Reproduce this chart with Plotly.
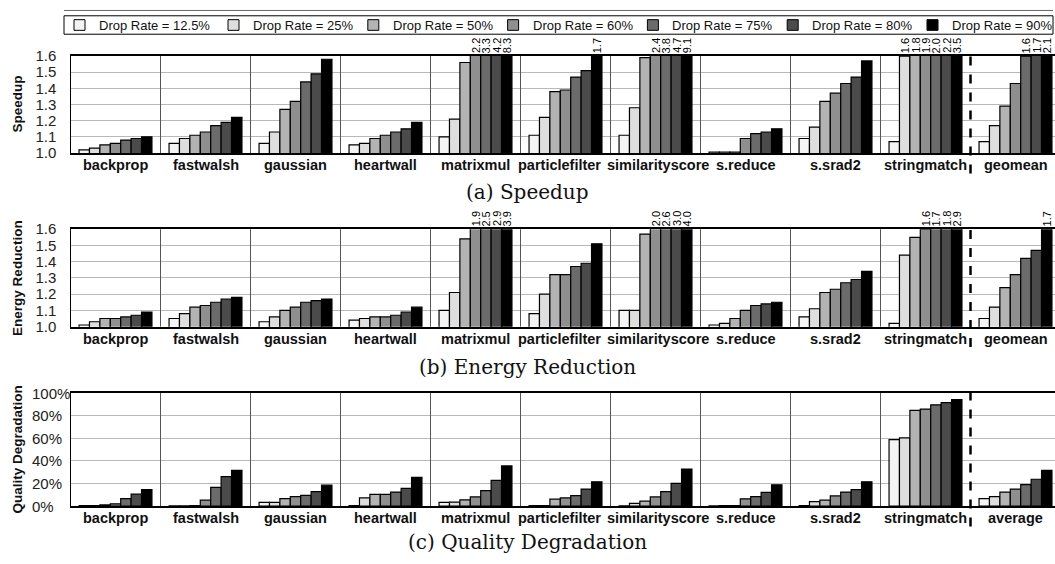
import plotly.graph_objects as go

# ---- data -------------------------------------------------------------
benchmarks = ["backprop", "fastwalsh", "gaussian", "heartwall", "matrixmul",
              "particlefilter", "similarityscore", "s.reduce", "s.srad2",
              "stringmatch", "geomean"]
quality_groups = benchmarks[:-1] + ["average"]
drop_rates = ["12.5%", "25%", "50%", "60%", "75%", "80%", "90%"]
bar_colors = ["#f4f4f4", "#dedede", "#b3b3b3", "#8f8f8f", "#6b6b6b", "#4b4b4b", "#000000"]

# one row per benchmark, one column per drop rate
speedup_rows = [
    [1.02, 1.03, 1.05, 1.06, 1.08, 1.09, 1.10],
    [1.06, 1.09, 1.11, 1.13, 1.17, 1.19, 1.22],
    [1.06, 1.13, 1.27, 1.32, 1.44, 1.49, 1.58],
    [1.05, 1.06, 1.09, 1.11, 1.13, 1.15, 1.19],
    [1.10, 1.21, 1.56, 2.2, 3.3, 4.2, 8.3],
    [1.11, 1.22, 1.38, 1.39, 1.47, 1.51, 1.7],
    [1.11, 1.28, 1.59, 2.4, 3.8, 4.7, 9.1],
    [1.005, 1.005, 1.005, 1.09, 1.12, 1.13, 1.15],
    [1.09, 1.16, 1.32, 1.37, 1.43, 1.47, 1.57],
    [1.07, 1.6, 1.8, 1.9, 2.0, 2.2, 3.5],
    [1.07, 1.17, 1.29, 1.43, 1.6, 1.7, 2.1],
]
energy_rows = [
    [1.01, 1.03, 1.05, 1.05, 1.06, 1.07, 1.09],
    [1.05, 1.08, 1.12, 1.13, 1.15, 1.17, 1.18],
    [1.03, 1.06, 1.10, 1.12, 1.15, 1.16, 1.17],
    [1.04, 1.05, 1.06, 1.06, 1.07, 1.09, 1.12],
    [1.10, 1.21, 1.54, 1.9, 2.5, 2.9, 3.9],
    [1.08, 1.20, 1.32, 1.32, 1.37, 1.39, 1.51],
    [1.10, 1.10, 1.57, 2.0, 2.6, 3.0, 4.0],
    [1.01, 1.02, 1.05, 1.10, 1.13, 1.14, 1.15],
    [1.06, 1.11, 1.21, 1.23, 1.27, 1.29, 1.34],
    [1.02, 1.44, 1.55, 1.6, 1.7, 1.8, 2.9],
    [1.05, 1.12, 1.24, 1.32, 1.42, 1.47, 1.7],
]
quality_rows = [
    [0.3, 0.5, 1.0, 2.0, 6.5, 10.5, 14.5],
    [0.2, 0.2, 0.3, 5.2, 16.5, 26.0, 31.5],
    [3.2, 3.2, 6.6, 8.4, 9.5, 12.7, 18.5],
    [0.3, 7.2, 10.4, 10.4, 12.4, 15.6, 25.4],
    [3.2, 3.5, 5.5, 8.1, 13.6, 22.8, 35.5],
    [0.3, 0.3, 6.1, 7.2, 9.2, 15.0, 21.4],
    [0.2, 2.3, 4.3, 8.1, 12.7, 20.0, 32.7],
    [0.2, 0.5, 0.5, 6.4, 8.4, 12.1, 18.8],
    [0.3, 4.0, 5.2, 9.0, 12.4, 14.5, 21.4],
    [58.7, 60.4, 84.7, 85.8, 89.6, 91.6, 94.2],
    [6.6, 8.4, 12.4, 15.0, 19.0, 23.7, 31.5],
]

speedup_ticks = [1.0, 1.1, 1.2, 1.3, 1.4, 1.5, 1.6]
quality_ticks = [0, 20, 40, 60, 80, 100]

# ---- geometry -----------------------------------------------------------
W, H = 1055, 564
PLOT_LEFT = 70.5
GROUP_PX = 90.0
BARGAP = 0.19
N_SERIES = len(drop_rates)
x_end = -0.5 + (W - PLOT_LEFT) / GROUP_PX

panels = [
    dict(top=48.5, bottom=148.5, caption_y=189, rng=[1.0, 1.6],
         rows=speedup_rows, groups=benchmarks, title="Speedup", caption="(a) Speedup"),
    dict(top=227.0, bottom=327.5, caption_y=369, rng=[1.0, 1.6],
         rows=energy_rows, groups=benchmarks, title="Energy Reduction",
         caption="(b) Energy Reduction"),
    dict(top=396.0, bottom=512.5, caption_y=550, rng=[0, 100],
         rows=quality_rows, groups=quality_groups, title="Quality Degradation",
         caption="(c) Quality Degradation"),
]

SANS = "Liberation Sans, Arial, sans-serif"
SERIF = "DejaVu Serif, serif"
# long neighbouring names are nudged apart (px) so they don't collide
label_nudge = {"particlefilter": -6, "similarityscore": 2}

fig = go.Figure()
annotations = []
shapes = []
positions = list(range(len(benchmarks)))
bar_w = (1 - BARGAP) / N_SERIES

for p_idx, p in enumerate(panels):
    k = "" if p_idx == 0 else str(p_idx + 1)
    xa, ya = "x" + k, "y" + k
    is_quality = p["rng"][1] > 2
    for s in range(N_SERIES):
        vals = [row[s] for row in p["rows"]]
        fig.add_trace(go.Bar(
            x=positions, y=vals, xaxis=xa, yaxis=ya,
            name="Drop Rate = " + drop_rates[s], showlegend=False,
            marker=dict(color=bar_colors[s], line=dict(color="#000000", width=1.2)),
            hoverinfo="skip",
        ))
        # values running past the top of the axis get a rotated label
        if not is_quality:
            for g, v in enumerate(vals):
                if v >= p["rng"][1] - 1e-9:
                    annotations.append(dict(
                        x=g + (s - (N_SERIES - 1) / 2) * bar_w, xref=xa,
                        y=1, yref=ya + " domain", yanchor="bottom", xanchor="center",
                        yshift=1, text=f"{v:.1f}", textangle=-90, showarrow=False,
                        font=dict(family=SANS, size=11, color="#000000"),
                    ))

    # benchmark names under each group
    for g, name in enumerate(p["groups"]):
        annotations.append(dict(
            x=g, xref=xa, y=0, yref=ya + " domain", xanchor="center",
            yanchor="middle", yshift=-12, xshift=label_nudge.get(name, 0),
            text="<b>" + name + "</b>", showarrow=False,
            font=dict(family=SANS, size=14.5, color="#111111"),
        ))

    dom = [1 - p["bottom"] / H, 1 - p["top"] / H]
    height_px = p["bottom"] - p["top"]
    fig.layout["xaxis" + k] = dict(
        domain=[PLOT_LEFT / W, 1], range=[-0.5, x_end], anchor=ya,
        showticklabels=False, showgrid=False, zeroline=False, ticks="",
        showline=True, linecolor="#000000", linewidth=1.5, mirror=True,
    )
    fig.layout["yaxis" + k] = dict(
        domain=dom, range=p["rng"], anchor=xa,
        tickvals=quality_ticks if is_quality else speedup_ticks,
        tickformat=".1f", showticklabels=not is_quality,
        tickfont=dict(family=SANS, size=15, color="#222222"),
        showgrid=True, gridcolor="#b8b8b8", gridwidth=1.3,
        zeroline=False, ticks="", ticklabelstandoff=10,
        showline=True, linecolor="#000000", linewidth=1.2,
    )
    if is_quality:
        # percentage labels, left aligned
        for t in quality_ticks:
            annotations.append(dict(
                x=30 / W, xref="paper", xanchor="left", y=t, yref=ya,
                yanchor="middle", text=f"{t}%", showarrow=False,
                font=dict(family=SANS, size=15, color="#222222"),
            ))

    # separators between benchmark groups
    for g in range(len(benchmarks) - 2):
        shapes.append(dict(type="line", xref=xa, yref=ya + " domain",
                           x0=g + 0.5, x1=g + 0.5, y0=0, y1=1,
                           line=dict(color="#555555", width=1)))
    last = len(benchmarks) - 1.5
    shapes.append(dict(type="line", xref=xa, yref=ya + " domain",
                       x0=last, x1=last, y0=-21 / height_px, y1=1,
                       line=dict(color="#000000", width=2.5, dash="dash")))

    annotations.append(dict(
        x=18 / W, xref="paper", y=(dom[0] + dom[1]) / 2, yref="paper",
        text="<b>" + p["title"] + "</b>", textangle=-90, showarrow=False,
        xanchor="center", yanchor="middle",
        font=dict(family=SANS, size=13.5, color="#111111"),
    ))
    annotations.append(dict(
        x=0.5, xref="paper", y=1 - p["caption_y"] / H, yref="paper",
        text=p["caption"], showarrow=False, xanchor="center", yanchor="middle",
        font=dict(family=SERIF, size=20, color="#111111"),
    ))

# ---- legend row (swatch + label per drop rate) ---------------------------
LEG_TOP, LEG_BOTTOM = 7.0, 26.0
LEG_LEFT, LEG_RIGHT = 64.0, 1053.0
SW = 11.0
item_left = [74.0] + [228.0 + 139.8 * i for i in range(N_SERIES - 1)]
mid = (LEG_TOP + LEG_BOTTOM) / 2


def px(xv):
    return xv / W


def py(yv):
    return 1 - yv / H


shapes.append(dict(type="line", xref="paper", yref="paper",
                   x0=px(LEG_LEFT), x1=px(LEG_RIGHT), y0=py(1.5), y1=py(1.5),
                   line=dict(color="#666666", width=1)))
shapes.append(dict(type="rect", xref="paper", yref="paper",
                   x0=px(LEG_LEFT), x1=px(LEG_RIGHT), y0=py(LEG_BOTTOM), y1=py(LEG_TOP),
                   line=dict(color="#000000", width=1), fillcolor="rgba(0,0,0,0)"))
for s in range(N_SERIES):
    x0 = item_left[s]
    shapes.append(dict(type="rect", xref="paper", yref="paper",
                       x0=px(x0), x1=px(x0 + SW), y0=py(mid + SW / 2), y1=py(mid - SW / 2),
                       line=dict(color="#000000", width=1), fillcolor=bar_colors[s]))
    annotations.append(dict(
        x=px(x0 + SW + 12), xref="paper", xanchor="left", y=py(mid), yref="paper",
        yanchor="middle", text="Drop Rate = " + drop_rates[s], showarrow=False,
        font=dict(family=SANS, size=13, color="#111111"),
    ))

fig.update_layout(
    width=W, height=H, margin=dict(l=0, r=0, t=0, b=0),
    paper_bgcolor="#ffffff", plot_bgcolor="#ffffff",
    barmode="group", bargap=BARGAP, bargroupgap=0, showlegend=False,
    annotations=annotations, shapes=shapes,
)

fig.write_html("out.html")
